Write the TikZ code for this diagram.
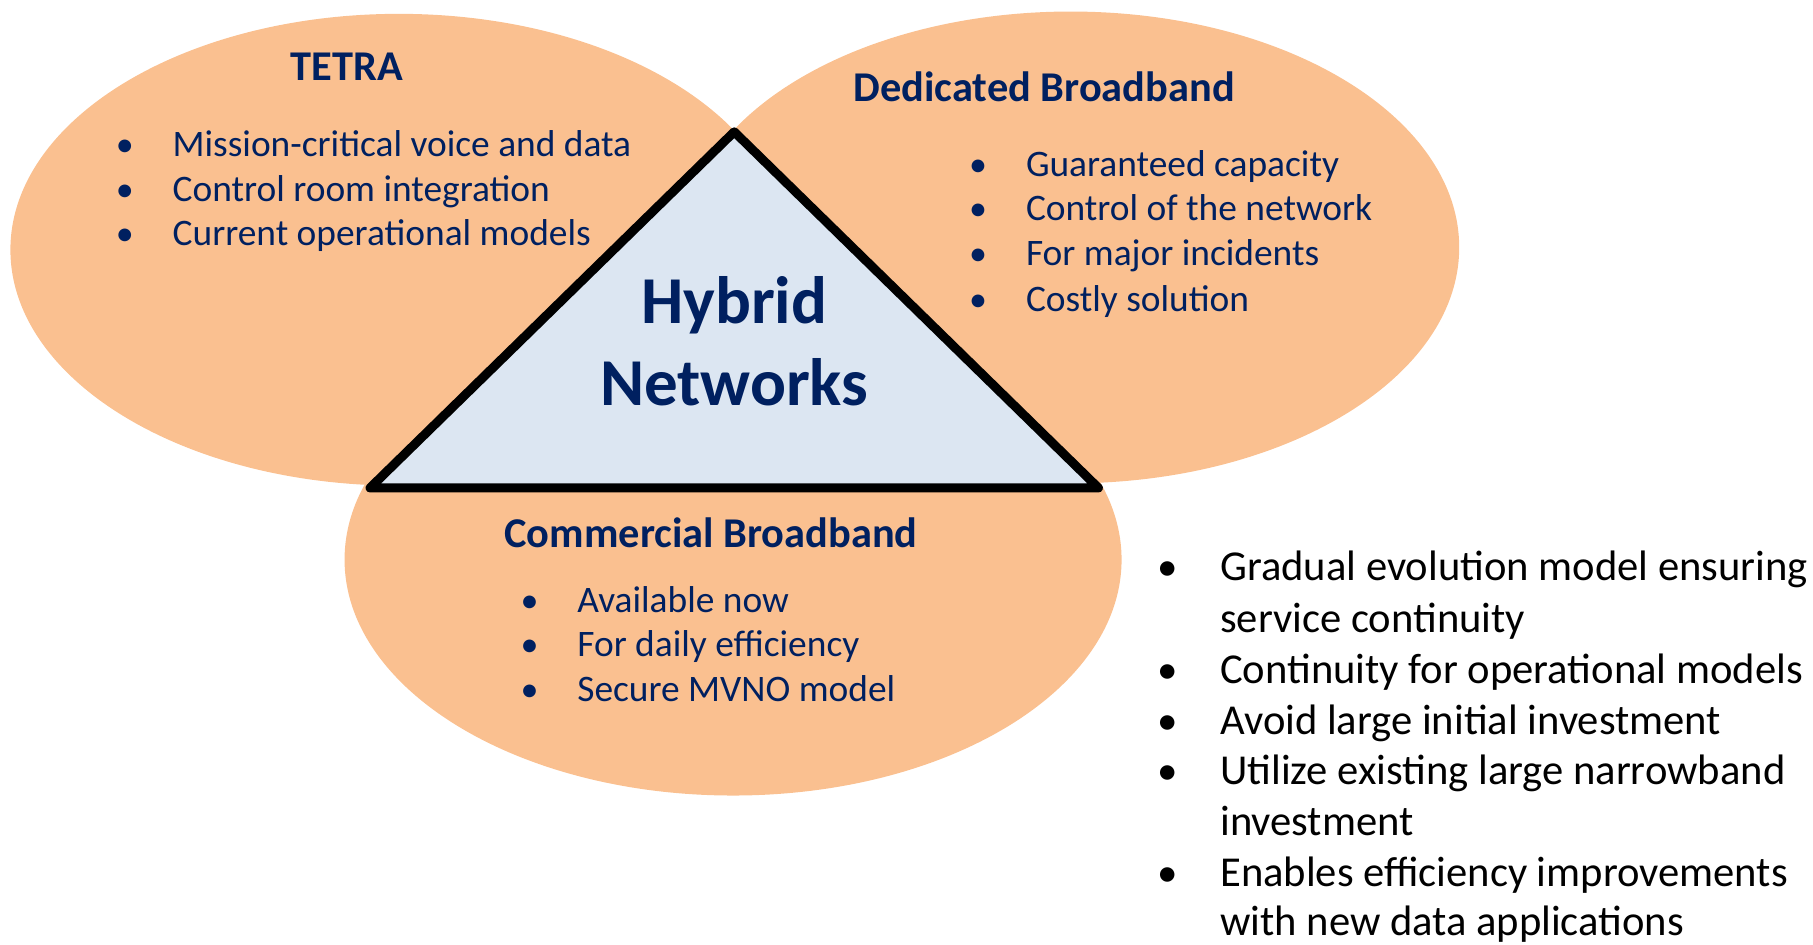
\documentclass[tikz,border=0pt]{standalone}
\usepackage{fontspec}
\setmainfont{Carlito}
\usetikzlibrary{shapes.geometric}
\definecolor{peach}{HTML}{FAC090}
\definecolor{paleblue}{HTML}{DCE6F2}
\definecolor{navy}{HTML}{002060}
\tikzset{
  blob/.style={ellipse, fill=peach, draw=none, minimum width=388.5pt, minimum height=235.9pt, inner sep=0pt},
  head/.style={text=navy, font=\bfseries\fontsize{21.2}{24}\selectfont, inner sep=0pt},
  big/.style={text=navy, font=\bfseries\fontsize{33.5}{38}\selectfont, inner sep=0pt},
  item/.style={text=navy, font=\fontsize{18.7}{22}\selectfont, inner sep=0pt, anchor=mid west, yshift=-4pt},
  dot/.style={text=navy, font=\fontsize{18}{22}\selectfont, inner sep=0pt, anchor=mid, yshift=-4pt},
  ritem/.style={text=black, font=\fontsize{21.3}{25}\selectfont, inner sep=0pt, anchor=mid west, yshift=-4.5pt},
  rdot/.style={text=black, font=\fontsize{20.5}{25}\selectfont, inner sep=0pt, anchor=mid, yshift=-4.5pt},
  tri/.style={draw=black, line width=4.5pt, line join=round, fill=paleblue}
}
\begin{document}
\begin{tikzpicture}[x=0.57812pt,y=-0.57812pt]
\useasboundingbox (0,0) rectangle (1568,817);
% ellipses
\node[blob] (tetra) at (345,216) {};
\node[blob] (ded) at (926,214) {};
\node[blob] (com) at (634,484) {};
% triangle
\coordinate (apex) at (635,114);
\coordinate (bl) at (320,422);
\coordinate (br) at (950,422);
\draw[tri] (apex) -- (br) -- (bl) -- cycle;
\node[big] (hy1) at (635,264) {Hybrid};
\node[big] (hy2) at (635,331) {Networks};
% TETRA
\node[head] (th) at (300,58) {TETRA};
\node[dot] (tb1) at (108,124) {\textbullet};
\node[item] (t1) at (149,124) {Mission-critical voice and data};
\node[dot] (tb2) at (108,163) {\textbullet};
\node[item] (t2) at (149,163) {Control room integration};
\node[dot] (tb3) at (108,201) {\textbullet};
\node[item] (t3) at (149,201) {Current operational models};
% Dedicated
\node[head] (dh) at (903,75) {Dedicated Broadband};
\node[dot] (db1) at (846,142) {\textbullet};
\node[item] (d1) at (887,142) {Guaranteed capacity};
\node[dot] (db2) at (846,180) {\textbullet};
\node[item] (d2) at (887,180) {Control of the network};
\node[dot] (db3) at (846,219) {\textbullet};
\node[item] (d3) at (887,219) {For major incidents};
\node[dot] (db4) at (846,258) {\textbullet};
\node[item] (d4) at (887,258) {Costly solution};
% Commercial
\node[head] (ch) at (615,461) {Commercial Broadband};
\node[dot] (cb1) at (458,519) {\textbullet};
\node[item] (c1) at (499,519) {Available now};
\node[dot] (cb2) at (458,557) {\textbullet};
\node[item] (c2) at (499,557) {For daily efficiency};
\node[dot] (cb3) at (458,596) {\textbullet};
\node[item] (c3) at (499,596) {Secure MVNO model};
% right list
\node[rdot] (rb1) at (1010,490) {\textbullet};
\node[ritem] (r1a) at (1055,490) {Gradual evolution model ensuring};
\node[ritem] (r1b) at (1055,535) {service continuity};
\node[rdot] (rb2) at (1010,579) {\textbullet};
\node[ritem] (r2) at (1055,579) {Continuity for operational models};
\node[rdot] (rb3) at (1010,623) {\textbullet};
\node[ritem] (r3) at (1055,623) {Avoid large initial investment};
\node[rdot] (rb4) at (1010,667) {\textbullet};
\node[ritem] (r4a) at (1055,667) {Utilize existing large narrowband};
\node[ritem] (r4b) at (1055,711) {investment};
\node[rdot] (rb5) at (1010,755) {\textbullet};
\node[ritem] (r5a) at (1055,755) {Enables efficiency improvements};
\node[ritem] (r5b) at (1055,797) {with new data applications};
\end{tikzpicture}
\end{document}
